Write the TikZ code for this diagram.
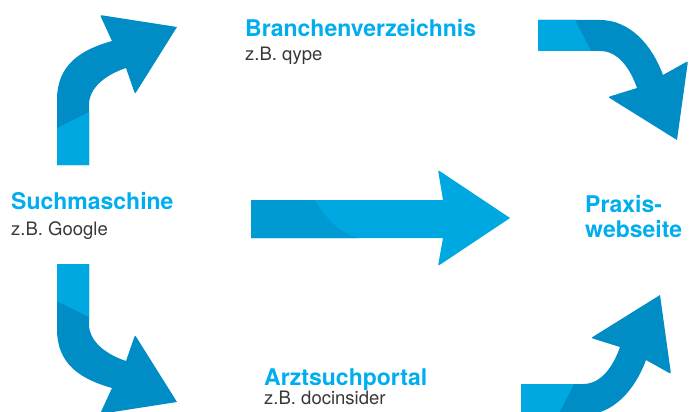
\documentclass[tikz,border=0pt]{standalone}
\usepackage{fontspec}
\setmainfont{TeX Gyre Heros}
\usetikzlibrary{calc}
\definecolor{lightarrow}{HTML}{00A8E1}
\definecolor{darkarrow}{HTML}{008CC5}
\definecolor{midarrow}{HTML}{009AD2}
\definecolor{titleblue}{HTML}{00AEEF}
\definecolor{subgray}{HTML}{383838}
\tikzset{
  titletext/.style={anchor=base west, inner sep=0pt, text=titleblue, font=\fontsize{23}{25}\selectfont\bfseries},
  subtext/.style={anchor=base west, inner sep=0pt, text=subgray, font=\fontsize{18.5}{20}\selectfont},
  lightpart/.style={fill=lightarrow, draw=none},
  darkpart/.style={fill=darkarrow, draw=none},
  midpart/.style={fill=midarrow, draw=none},
}
% up-then-right bent arrow (top left)
\newcommand{\bendarrowone}{%
  \fill[darkpart] (57,165) -- (57,100) .. controls (57,65) and (80,50) .. (112,41)
    -- ($(100,15)!4pt!(112,41)$) .. controls (100,15) .. ($(100,15)!4pt!(177,27)$)
    -- (177,27)
    -- ($(135,94)!4pt!(177,27)$) .. controls (135,94) .. ($(135,94)!4pt!(126,68)$)
    -- (126,68) .. controls (105,75) and (89,88) .. (89,105) -- (89,165) -- cycle;
  \fill[lightpart] (57,165) -- (57,128) -- (89,112) -- (89,165) -- cycle;
}
% right-then-down bent arrow (top right)
\newcommand{\bendarrowtwo}{%
  \fill[darkpart] (538,20) -- (600,20) .. controls (630,20) and (652,45) .. (663,75)
    -- ($(688,61)!4pt!(663,75)$) .. controls (688,61) .. ($(688,61)!4pt!(677,140)$)
    -- (677,140)
    -- ($(608,97)!4pt!(677,140)$) .. controls (608,97) .. ($(608,97)!4pt!(637,88)$)
    -- (637,88) .. controls (630,68) and (618,51) .. (600,51) -- (538,51) -- cycle;
  \fill[lightpart] (538,20) -- (575,20) -- (591,51) -- (538,51) -- cycle;
}
\begin{document}
\begin{tikzpicture}[x=1pt,y=-1pt]
\useasboundingbox (0,0) rectangle (689,412);
\clip (0,0) rectangle (689,412);
% arrows
\bendarrowone
\begin{scope}[shift={(0,429)}, yscale=-1]
  \bendarrowone
\end{scope}
\bendarrowtwo
\begin{scope}[shift={(-17,435)}, yscale=-1]
  \bendarrowtwo
\end{scope}
% middle straight arrow
\fill[lightpart] (251,200) -- (443,200)
  -- ($(438,170)!4pt!(443,200)$) .. controls (438,170) .. ($(438,170)!4pt!(510,218)$)
  -- (510,218)
  -- ($(438,266)!4pt!(510,218)$) .. controls (438,266) .. ($(438,266)!4pt!(443,238)$)
  -- (443,238) -- (251,238) -- cycle;
\fill[midpart] (251,200) -- (315,200) .. controls (325,218) and (340,233) .. (358,238) -- (251,238) -- cycle;
% labels
\node[titletext] (such) at (11,209) {Suchmaschine};
\node[subtext] (suchex) at (11,235) {z.B. Google};
\node[titletext] (branch) at (245,37) {Branchenverzeichnis};
\node[subtext] (branchex) at (245,61) {z.B. qype};
\node[titletext] (arzt) at (264,385) {Arztsuchportal};
\node[subtext] (arztex) at (264,404) {z.B. docinsider};
\node[titletext] (praxis) at (585,212) {Praxis-};
\node[titletext] (webseite) at (585,237) {webseite};
\end{tikzpicture}
\end{document}
